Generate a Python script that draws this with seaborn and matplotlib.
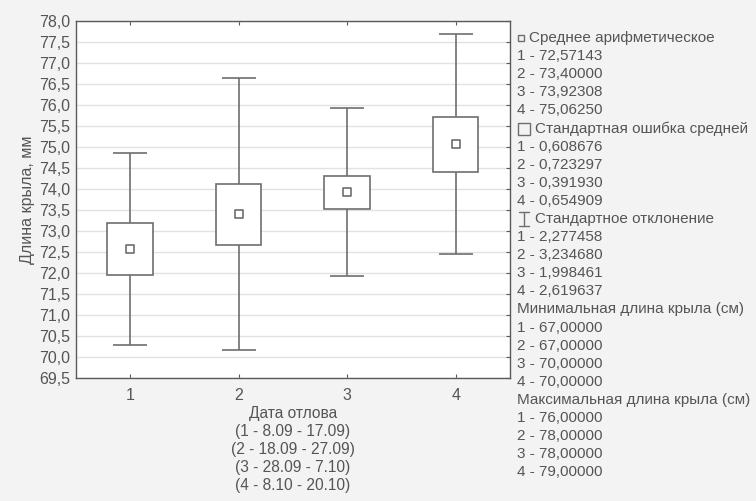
import numpy as np
import pandas as pd
import matplotlib
import matplotlib.pyplot as plt
import seaborn as sns
from matplotlib.ticker import FuncFormatter
from matplotlib.patches import Rectangle
from matplotlib.lines import Line2D

matplotlib.use('Agg')

# --- data (Statistica-style summary: mean, SE, SD, min, max) ---
groups = [1, 2, 3, 4]
means = [72.57143, 73.40000, 73.92308, 75.06250]
se = [0.608676, 0.723297, 0.391930, 0.654909]
sd = [2.277458, 3.234680, 1.998461, 2.619637]
min_len = [67.0, 67.0, 70.0, 70.0]
max_len = [76.0, 78.0, 78.0, 79.0]
periods = ['(1 - 8.09 - 17.09)', '(2 - 18.09 - 27.09)',
           '(3 - 28.09 - 7.10)', '(4 - 8.10 - 20.10)']

df = pd.DataFrame({'group': groups, 'mean': means, 'se': se, 'sd': sd})

sns.set_theme(style='white')
plt.rcParams['font.family'] = ['Liberation Sans', 'DejaVu Sans']

LINE = '#6e6e6e'
TXT = '#555555'
BG = '#f3f3f3'

fig = plt.figure(figsize=(7.56, 5.01), dpi=100, facecolor=BG)
ax = fig.add_axes([0.1005, 0.2455, 0.574, 0.7125])
ax.set_facecolor('white')

# whiskers: mean +/- SD
ax.errorbar(df['group'], df['mean'], yerr=df['sd'], fmt='none',
            ecolor=LINE, elinewidth=1.2, capsize=12, capthick=1.2, zorder=2)

# boxes: mean +/- SE
ax.bar(df['group'], 2 * df['se'], bottom=df['mean'] - df['se'], width=0.42,
       color='white', edgecolor=LINE, linewidth=1.2, zorder=3)

# mean markers
sns.scatterplot(data=df, x='group', y='mean', marker='s', s=28,
                facecolor='white', edgecolor=LINE, linewidth=1.2,
                ax=ax, zorder=4, legend=False)

ax.set_xlim(0.5, 4.5)
ax.set_ylim(69.5, 78.0)
ax.set_xticks(groups)
ax.set_yticks(np.arange(69.5, 78.01, 0.5))
ax.yaxis.set_major_formatter(FuncFormatter(lambda v, p: f'{v:.1f}'.replace('.', ',')))
ax.grid(axis='y', color='#e2e2e2', linewidth=1.0)
ax.set_axisbelow(True)

for s in ax.spines.values():
    s.set_color('#5a5a5a')
    s.set_linewidth(1.0)

ax.tick_params(axis='both', which='both', direction='in', length=3, width=0.8,
               color='#5a5a5a', top=True, right=True, bottom=True, left=False,
               labelsize=11.5, labelcolor=TXT)
ax.tick_params(axis='x', pad=7)
ax.tick_params(axis='y', pad=4)

ax.set_ylabel('Длина крыла, мм', fontsize=11.5, color=TXT, labelpad=3)
ax.set_xlabel('Дата отлова\n' + '\n'.join(periods), fontsize=11.2,
              color=TXT, labelpad=2, linespacing=1.27)

# --- right-hand legend / statistics block ---
def fy(px):
    return 1 - px / 501.0

def fx(px):
    return px / 756.0

fs = 11.0
step = 18.1
y0 = 38.0
lines = []
lines.append(('mean', 'Среднее арифметическое'))
lines += [(None, f'{g} - {v:.5f}'.replace('.', ',')) for g, v in zip(groups, means)]
lines.append(('se', 'Стандартная ошибка средней'))
lines += [(None, f'{g} - {v:.6f}'.replace('.', ',')) for g, v in zip(groups, se)]
lines.append(('sd', 'Стандартное отклонение'))
lines += [(None, f'{g} - {v:.6f}'.replace('.', ',')) for g, v in zip(groups, sd)]
lines.append(('plain', 'Минимальная длина крыла (см)'))
lines += [(None, f'{g} - {v:.5f}'.replace('.', ',')) for g, v in zip(groups, min_len)]
lines.append(('plain', 'Максимальная длина крыла (см)'))
lines += [(None, f'{g} - {v:.5f}'.replace('.', ',')) for g, v in zip(groups, max_len)]

for i, (kind, text) in enumerate(lines):
    ypx = y0 + i * step
    xtext = 517
    if kind == 'mean':
        fig.add_artist(Rectangle((fx(518), fy(ypx + 3)), 6 / 756, 6 / 501,
                                 transform=fig.transFigure, fill=False,
                                 edgecolor=LINE, linewidth=1.0))
        xtext = 529
    elif kind == 'se':
        fig.add_artist(Rectangle((fx(518), fy(ypx + 6)), 12 / 756, 12 / 501,
                                 transform=fig.transFigure, fill=False,
                                 edgecolor=LINE, linewidth=1.0))
        xtext = 535
    elif kind == 'sd':
        cx = 524
        for seg in [((cx, cx), (ypx - 7, ypx + 7)),
                    ((cx - 5, cx + 5), (ypx - 7, ypx - 7)),
                    ((cx - 5, cx + 5), (ypx + 7, ypx + 7))]:
            fig.add_artist(Line2D([fx(v) for v in seg[0]], [fy(v) for v in seg[1]],
                                  transform=fig.transFigure, color=LINE, linewidth=1.0))
        xtext = 535
    fig.text(fx(xtext), fy(ypx), text, fontsize=fs, color=TXT,
             ha='left', va='center')

fig.savefig('out.png', dpi=100, facecolor=BG)
